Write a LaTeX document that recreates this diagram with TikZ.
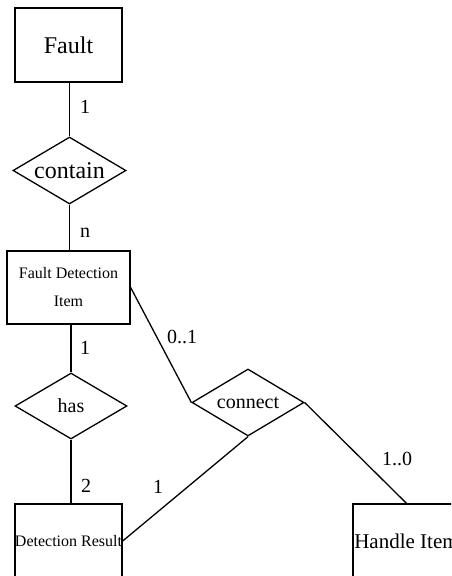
\documentclass[tikz,border=0pt]{standalone}
\usepackage{fontspec}
\setmainfont{Liberation Serif}
\usetikzlibrary{shapes.geometric}
\tikzset{
  ent/.style={draw, line width=1.3pt, rectangle, inner sep=0pt},
  rel/.style={draw, line width=1.3pt, diamond, inner sep=0pt},
  conn/.style={line width=1.3pt},
  card/.style={font=\fontsize{20}{22}\selectfont, inner sep=0pt}
}
\begin{document}
\begin{tikzpicture}[x=1pt,y=-1pt]
\useasboundingbox (0,0) rectangle (451,576);
\clip (0,0) rectangle (451,576);
% entities
\node[ent, minimum width=107pt, minimum height=74pt, font=\fontsize{24}{28}\selectfont] (fault) at (68.5,45) {Fault};
\node[ent, minimum width=123pt, minimum height=73pt, align=center, font=\fontsize{16}{28}\selectfont] (fdi) at (68.5,287.5) {Fault Detection\\Item};
\node[ent, minimum width=107pt, minimum height=74pt, font=\fontsize{16}{20}\selectfont] (dr) at (68.5,541) {Detection Result};
\node[ent, minimum width=107pt, minimum height=74pt, font=\fontsize{21}{24}\selectfont] (hi) at (406.5,541) {Handle Item};
% relationships
\node[rel, minimum width=113pt, minimum height=67pt, shape aspect=1.69, font=\fontsize{24}{28}\selectfont] (contain) at (69.5,170.5) {contain};
\node[rel, minimum width=112pt, minimum height=66pt, shape aspect=1.7, font=\fontsize{20}{24}\selectfont] (has) at (71,406) {has};
\node[rel, minimum width=112pt, minimum height=67pt, shape aspect=1.67, font=\fontsize{20}{24}\selectfont] (connect) at (248,402.5) {connect};
% connectors
\draw[conn] (fault.south -| contain.north) -- (contain.north);
\draw[conn] (contain.south) -- (contain.south |- fdi.north);
\draw[conn] (has.north |- fdi.south) -- (has.north);
\draw[conn] (has.south) -- (has.south |- dr.north);
\draw[conn] (fdi.east) -- (connect.west);
\draw[conn] (connect.south) -- (dr.east);
\draw[conn] (connect.east) -- (hi.north);
% cardinalities
\node[card] (c1) at (85,107) {1};
\node[card] (c2) at (85,233) {n};
\node[card] (c3) at (85,348) {1};
\node[card] (c4) at (86,486) {2};
\node[card] (c5) at (182,337) {0..1};
\node[card] (c6) at (158,487) {1};
\node[card] (c7) at (397,459) {1..0};
\end{tikzpicture}
\end{document}
